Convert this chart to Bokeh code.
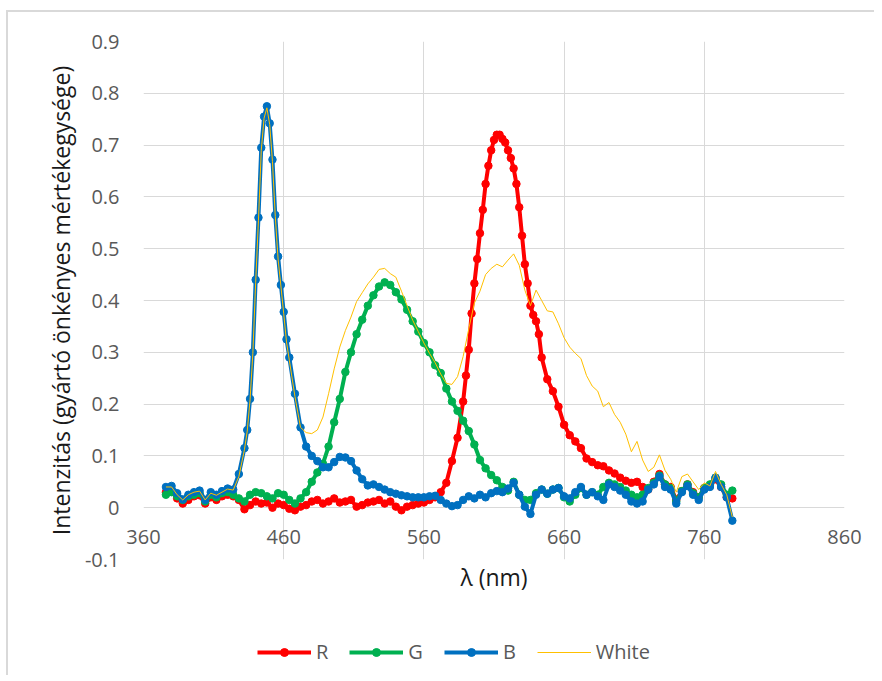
from bokeh.plotting import figure
from bokeh.layouts import column
from bokeh.models import Legend, LegendItem, FixedTicker, CustomJSTickFormatter, Range1d
from bokeh.embed import file_html
from bokeh.resources import INLINE

# ---------------- data ----------------
wl_R = [376, 380, 384, 388, 392, 396, 400, 404, 408, 412, 416, 420, 424, 428, 432, 436,
        440, 444, 448, 452, 456, 460, 464, 468, 472, 476, 480, 484, 488, 492, 496, 500,
        504, 508, 512, 516, 520, 524, 528, 532, 536, 540, 544, 548, 552, 556, 560, 564,
        568, 572, 576, 580, 584, 588, 590, 592, 594, 596, 598, 600, 602, 604, 606, 608,
        610, 612, 614, 616, 618, 620, 622, 624, 626, 628, 630, 632, 634, 636, 638, 640,
        642, 644, 648, 652, 656, 660, 664, 668, 672, 676, 680, 684, 688, 692, 696, 700,
        704, 708, 712, 716, 720, 724, 728, 732, 736, 740, 744, 748, 752, 756, 760, 764,
        768, 772, 776, 780]
R = [0.030, 0.033, 0.018, 0.008, 0.015, 0.022, 0.024, 0.008, 0.020, 0.015, 0.022, 0.025, 0.022, 0.015, -0.003, 0.005,
     0.012, 0.008, 0.010, 0.000, 0.008, 0.005, -0.002, -0.005, 0.002, 0.005, 0.012, 0.015, 0.008, 0.012, 0.018, 0.010,
     0.012, 0.015, 0.002, 0.005, 0.010, 0.012, 0.015, 0.008, 0.012, 0.002, -0.005, 0.002, 0.005, 0.008, 0.010, 0.015,
     0.020, 0.030, 0.048, 0.090, 0.135, 0.205, 0.255, 0.305, 0.375, 0.433, 0.480, 0.530, 0.575, 0.625, 0.660, 0.690,
     0.710, 0.720, 0.720, 0.712, 0.705, 0.690, 0.675, 0.655, 0.625, 0.580, 0.525, 0.470, 0.433, 0.390, 0.372, 0.360,
     0.335, 0.290, 0.248, 0.225, 0.195, 0.160, 0.140, 0.128, 0.115, 0.095, 0.088, 0.082, 0.080, 0.072, 0.066, 0.058,
     0.052, 0.048, 0.050, 0.040, 0.035, 0.050, 0.065, 0.045, 0.040, 0.015, 0.032, 0.045, 0.030, 0.020, 0.038, 0.042,
     0.055, 0.040, 0.020, 0.018]

wl_G = [376, 380, 384, 388, 392, 396, 400, 404, 408, 412, 416, 420, 424, 428, 432, 436,
        440, 444, 448, 452, 456, 460, 464, 468, 472, 476, 480, 484, 488, 492, 496, 500,
        504, 508, 512, 516, 520, 524, 528, 532, 536, 540, 544, 548, 552, 556, 560, 564,
        568, 572, 576, 580, 584, 588, 592, 596, 600, 604, 608, 612, 616, 620, 624, 628,
        632, 636, 640, 644, 648, 652, 656, 660, 664, 668, 672, 676, 680, 684, 688, 692,
        696, 700, 704, 708, 712, 716, 720, 724, 728, 732, 736, 740, 744, 748, 752, 756,
        760, 764, 768, 772, 776, 780]
G = [0.025, 0.030, 0.022, 0.015, 0.022, 0.025, 0.028, 0.012, 0.025, 0.020, 0.028, 0.030, 0.025, 0.018, 0.012, 0.025,
     0.030, 0.028, 0.022, 0.018, 0.028, 0.025, 0.015, 0.008, 0.018, 0.030, 0.050, 0.068, 0.085, 0.118, 0.165, 0.210,
     0.262, 0.300, 0.335, 0.363, 0.390, 0.410, 0.427, 0.435, 0.430, 0.416, 0.402, 0.382, 0.360, 0.340, 0.318, 0.300,
     0.275, 0.260, 0.230, 0.205, 0.187, 0.168, 0.148, 0.122, 0.092, 0.076, 0.063, 0.053, 0.040, 0.033, 0.050, 0.025,
     0.015, 0.015, 0.028, 0.035, 0.027, 0.035, 0.038, 0.020, 0.012, 0.025, 0.038, 0.025, 0.030, 0.025, 0.040, 0.048,
     0.045, 0.040, 0.033, 0.025, 0.020, 0.025, 0.038, 0.048, 0.062, 0.045, 0.038, 0.012, 0.032, 0.045, 0.028, 0.020,
     0.038, 0.045, 0.058, 0.045, 0.025, 0.033]

wl_B = [376, 380, 384, 388, 392, 396, 400, 404, 408, 412, 416, 420, 424, 428, 432, 434,
        436, 438, 440, 442, 444, 446, 448, 450, 452, 454, 456, 458, 460, 462, 464, 468,
        472, 476, 480, 484, 488, 492, 496, 500, 504, 508, 512, 516, 520, 524, 528, 532,
        536, 540, 544, 548, 552, 556, 560, 564, 568, 572, 576, 580, 584, 588, 592, 596,
        600, 604, 608, 612, 616, 620, 624, 628, 632, 636, 640, 644, 648, 652, 656, 660,
        664, 668, 672, 676, 680, 684, 688, 692, 696, 700, 704, 708, 712, 716, 720, 724,
        728, 732, 736, 740, 744, 748, 752, 756, 760, 764, 768, 772, 776, 780]
B = [0.040, 0.042, 0.028, 0.016, 0.025, 0.030, 0.033, 0.015, 0.030, 0.025, 0.032, 0.037, 0.035, 0.065, 0.115, 0.150,
     0.210, 0.300, 0.440, 0.560, 0.695, 0.755, 0.775, 0.742, 0.672, 0.565, 0.485, 0.430, 0.378, 0.325, 0.290, 0.220,
     0.155, 0.118, 0.100, 0.090, 0.078, 0.078, 0.088, 0.098, 0.097, 0.090, 0.072, 0.055, 0.043, 0.045, 0.040, 0.035,
     0.030, 0.027, 0.024, 0.022, 0.020, 0.020, 0.020, 0.022, 0.023, 0.015, 0.008, 0.003, 0.005, 0.015, 0.022, 0.018,
     0.025, 0.020, 0.028, 0.032, 0.030, 0.037, 0.048, 0.025, 0.002, -0.012, 0.025, 0.035, 0.027, 0.035, 0.038, 0.022,
     0.018, 0.030, 0.040, 0.025, 0.030, 0.022, 0.015, 0.045, 0.040, 0.033, 0.025, 0.012, 0.008, 0.012, 0.035, 0.045,
     0.060, 0.040, 0.035, 0.008, 0.030, 0.042, 0.025, 0.015, 0.035, 0.040, 0.058, 0.040, 0.020, -0.025]

wl_W = wl_B
W = [0.040, 0.040, 0.025, 0.015, 0.025, 0.030, 0.032, 0.015, 0.028, 0.024, 0.030, 0.036, 0.034, 0.060, 0.112, 0.148,
     0.208, 0.298, 0.435, 0.555, 0.690, 0.752, 0.772, 0.740, 0.668, 0.562, 0.480, 0.428, 0.375, 0.320, 0.285, 0.215,
     0.155, 0.145, 0.143, 0.150, 0.175, 0.220, 0.268, 0.310, 0.342, 0.368, 0.398, 0.415, 0.432, 0.445, 0.460, 0.462,
     0.452, 0.445, 0.418, 0.390, 0.362, 0.340, 0.318, 0.298, 0.280, 0.258, 0.240, 0.238, 0.253, 0.292, 0.345, 0.395,
     0.418, 0.450, 0.462, 0.470, 0.465, 0.478, 0.490, 0.468, 0.420, 0.390, 0.420, 0.400, 0.380, 0.378, 0.355, 0.328,
     0.310, 0.298, 0.288, 0.255, 0.235, 0.225, 0.195, 0.203, 0.180, 0.165, 0.142, 0.108, 0.128, 0.092, 0.070, 0.078,
     0.102, 0.072, 0.055, 0.030, 0.060, 0.065, 0.050, 0.035, 0.048, 0.042, 0.070, 0.045, 0.025, -0.018]

x_ticks = [360, 460, 560, 660, 760, 860]
y_ticks = [-0.1, 0.0, 0.1, 0.2, 0.3, 0.4, 0.5, 0.6, 0.7, 0.8, 0.9]

series_names = ["R", "G", "B", "White"]
colors = {"R": "#FF0000", "G": "#00B050", "B": "#0070C0", "White": "#FFC000"}

FONT = "Open Sans"

data = {"R": (wl_R, R), "G": (wl_G, G), "B": (wl_B, B), "White": (wl_W, W)}

# ---------------- main figure ----------------
p = figure(width=866, height=608, x_range=(360, 860), y_range=(-0.1, 0.9),
           output_backend="svg", toolbar_location=None,
           min_border_left=135, min_border_right=30, min_border_top=29, min_border_bottom=61,
           background_fill_color="white", border_fill_color="white")
p.outline_line_color = None

p.xgrid.grid_line_color = "#d9d9d9"
p.ygrid.grid_line_color = "#d9d9d9"
p.xgrid.grid_line_width = 1
p.ygrid.grid_line_width = 1

p.xaxis.ticker = FixedTicker(ticks=x_ticks)
p.yaxis.ticker = FixedTicker(ticks=y_ticks)
p.yaxis.formatter = CustomJSTickFormatter(code="return String(Number(tick.toFixed(1)));")

for ax in (p.xaxis[0], p.yaxis[0]):
    ax.axis_line_color = None
    ax.major_tick_line_color = None
    ax.minor_tick_line_color = None
    ax.major_tick_in = 0
    ax.major_tick_out = 0
    ax.minor_tick_in = 0
    ax.minor_tick_out = 0
    ax.major_label_text_font = FONT
    ax.major_label_text_font_size = "20px"
    ax.major_label_text_color = "#595959"
    ax.axis_label_text_font = FONT
    ax.axis_label_text_font_size = "23px"
    ax.axis_label_text_font_style = "normal"
    ax.axis_label_text_color = "#1a1a1a"

# x tick labels sit between the 0 and -0.1 gridlines, as in the reference
p.xaxis.major_label_standoff = -30
p.xaxis.axis_label = "λ (nm)"
p.xaxis.axis_label_standoff = 14

p.yaxis.axis_label = "Intenzitás (gyártó önkényes mértékegysége)"
p.yaxis.major_label_standoff = 24
p.yaxis.axis_label_standoff = 5

for name in series_names:
    xs, ys = data[name]
    c = colors[name]
    if name == "White":
        p.line(xs, ys, line_color=c, line_width=1)
    else:
        p.line(xs, ys, line_color=c, line_width=4)
        p.scatter(xs, ys, marker="circle", size=7.5, fill_color=c, line_color=c)

# ---------------- legend strip (bottom of the chart) ----------------
# the series are drawn again here only to feed the legend; the 0..1 ranges keep them out of view
pl = figure(width=866, height=55, x_range=Range1d(0, 1), y_range=Range1d(0, 1),
            output_backend="svg", toolbar_location=None,
            x_axis_type=None, y_axis_type=None,
            min_border_left=0, min_border_right=0, min_border_top=0, min_border_bottom=0,
            background_fill_color="white", border_fill_color="white")
pl.outline_line_color = None
items = []
for name in series_names:
    xs, ys = data[name]
    c = colors[name]
    if name == "White":
        ln = pl.line(xs, ys, line_color=c, line_width=1)
        items.append(LegendItem(label=name, renderers=[ln]))
    else:
        ln = pl.line(xs, ys, line_color=c, line_width=4)
        sc = pl.scatter(xs, ys, marker="circle", size=6, fill_color=c, line_color=c)
        items.append(LegendItem(label=name, renderers=[ln, sc]))

legend = Legend(items=items, orientation="horizontal", location=(114, 10),
                label_text_font=FONT, label_text_font_size="20px", label_text_color="#595959",
                glyph_width=54, glyph_height=20, label_height=20, label_width=1, label_standoff=5,
                spacing=21, padding=0, margin=0, border_line_color=None,
                background_fill_alpha=0)
pl.add_layout(legend)

layout = column(p, pl, spacing=0)
layout.styles = {"border-top": "2px solid #d9d9d9", "border-left": "2px solid #d9d9d9",
                 "margin-top": "10px", "margin-left": "6px"}

open("out.html", "w").write(file_html(layout, INLINE))
